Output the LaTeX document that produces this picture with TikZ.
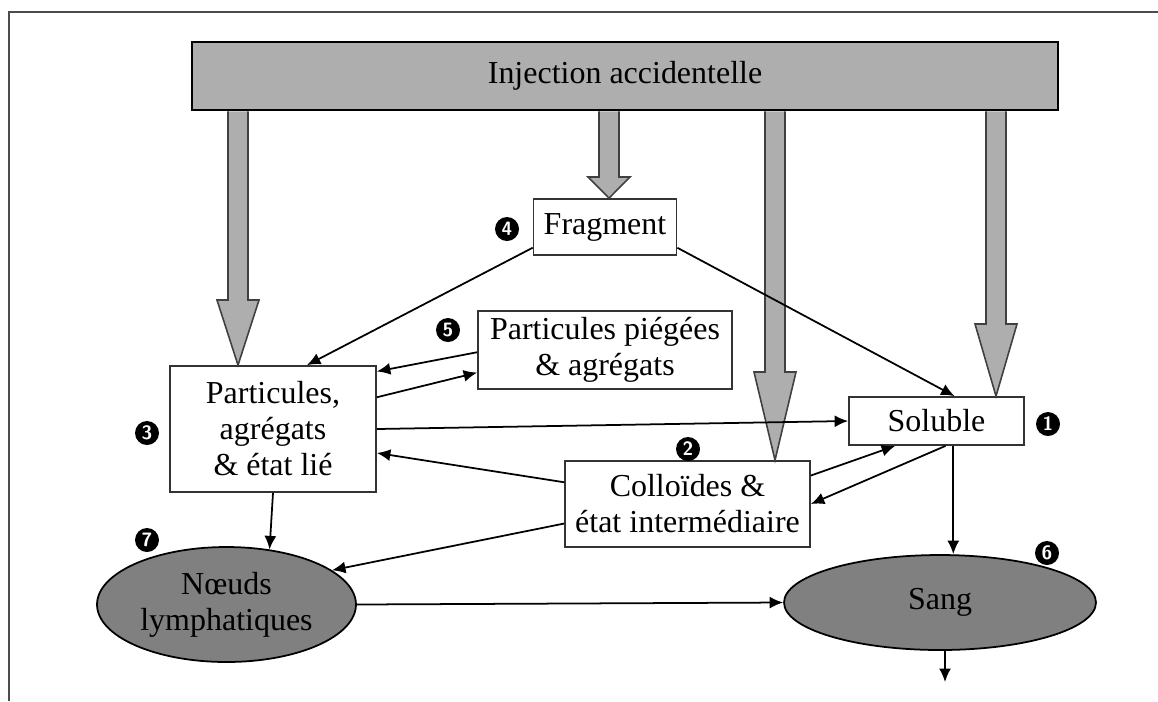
\documentclass[tikz,border=0pt]{standalone}
\usepackage{fontspec}
\setmainfont{Liberation Serif}
\usetikzlibrary{arrows.meta,shapes.geometric}

\definecolor{bargray}{HTML}{AEAEAE}
\definecolor{poolgray}{HTML}{808080}

\newcommand{\fatarrow}[3]{%
  \draw[fat] (inj.south -| #1-10,0) -- (#1-10,#2) -- (#1-21,#2) -- (#3.north -| #1,0)
    -- (#1+21,#2) -- (#1+10,#2) -- (inj.south -| #1+10,0);}

\begin{document}
\begin{tikzpicture}[x=0.02cm,y=-0.02cm,>={Latex[length=2.7mm,width=2.4mm]},line width=1pt]
            \tikzstyle{box}=[rectangle,draw=black!80,fill=white,align=center,inner sep=0pt,font=\fontsize{18.2}{20.5}\selectfont]
            \tikzstyle{pool}=[ellipse,draw=black,fill=poolgray,align=center,inner sep=0pt,font=\fontsize{18.2}{20.5}\selectfont]
            \tikzstyle{badge}=[circle,fill=black,text=white,minimum size=0.48cm,inner sep=0pt,font=\sffamily\bfseries\fontsize{11}{11}\selectfont]
            \tikzstyle{fat}=[draw=black!75,fill=bargray,line width=0.9pt,line join=miter]

            \useasboundingbox (0,0) rectangle (1158,701);
            \draw[line width=0.6pt,black!70] (9,701) -- (9,12) -- (1158,12);

            \node[box,fill=bargray,draw=black,line width=1.5pt,minimum width=17.32cm,minimum height=1.36cm] (inj) at (625,76) {Injection accidentelle};
            \node[box,minimum width=2.86cm,minimum height=1.12cm] (frag) at (605,227) {Fragment};
            \node[box,minimum width=5.08cm,minimum height=1.56cm] (trap) at (605,350) {Particules piégées\\\& agrégats};
            \node[box,minimum width=4.12cm,minimum height=2.52cm] (part) at (273,429) {Particules,\\agrégats\\\& état lié};
            \node[box,minimum width=3.5cm,minimum height=0.96cm] (sol) at (936.5,421) {Soluble};
            \node[box,minimum width=4.9cm,minimum height=1.72cm] (coll) at (687.5,504) {Colloïdes \&\\état intermédiaire};
            \node[pool,minimum width=5.18cm,minimum height=2.3cm] (lymph) at (226.5,604.5) {Nœuds\\lymphatiques};
            \node[pool,minimum width=6.24cm,minimum height=1.9cm] (sang) at (940,602.5) {Sang};
            \coordinate (out) at (945,682);

            \foreach \num/\x/\y in {1/1048/424, 2/688/449, 3/147/433, 4/507/229, 5/448/330, 6/1047/553, 7/147/540}
                    \node[badge] (B-\num) at (\x,\y) {\num};

            \fatarrow{238}{300}{part}
            \fatarrow{609}{177}{frag}
            \fatarrow{775}{372}{coll}
            \fatarrow{996}{324}{sol}

            \draw[->] (frag.196) -- (part.62);
            \draw[->] (frag.344) -- (sol.54);
            \draw[->] (trap.181) -- (part.29);
            \draw[->] (part.17) -- (trap.190);
            \draw[->] (part.east) -- (sol.west);
            \draw[->] (coll.170) -- (part.347);
            \draw[->] (coll.13) -- (sol.211);
            \draw[->] (sol.290) -- (coll.east);
            \draw[->] (sol.304) -- (sol.304 |- sang.north);
            \draw[->] (part.south) -- (lymph.52);
            \draw[->] (coll.189) -- (lymph.18);
            \draw[->] (lymph.east) -- (sang.west);
            \draw[->] (sang.south -| out) -- (out);
\end{tikzpicture}
\end{document}
